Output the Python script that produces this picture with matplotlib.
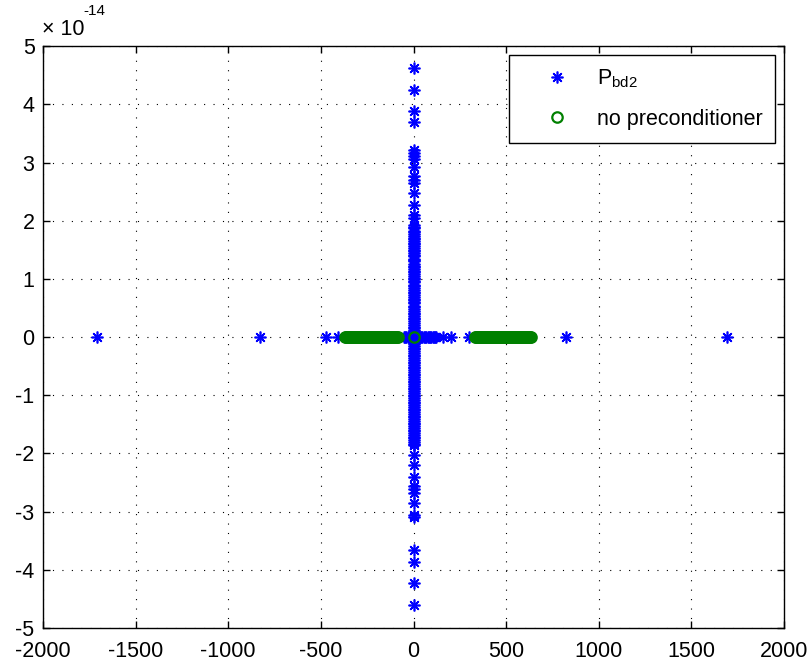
import matplotlib
matplotlib.use("Agg")
import matplotlib.pyplot as plt

plt.rcParams['font.family'] = 'Liberation Sans'
plt.rcParams['mathtext.fontset'] = 'custom'
plt.rcParams['mathtext.rm'] = 'Liberation Sans'
plt.rcParams['mathtext.it'] = 'Liberation Sans'
plt.rcParams['axes.unicode_minus'] = False

# eigenvalues of the preconditioned system on the imaginary axis (units of 1e-14)
pbd_col_imag = [
    4.62, 4.25, 3.88, 3.70, 3.22, 3.17, 3.12, 3.06, 2.92, 2.76, 2.70, 2.65, 2.47, 2.27,
    2.10, 2.04, 1.92, 1.89, 1.87, 1.83, 1.80, 1.78, 1.74, 1.71, 1.69, 1.65, 1.62, 1.60,
    1.56, 1.53, 1.50, 1.48, 1.44, 1.41, 1.39, 1.35, 1.32, 1.30, 1.26, 1.23, 1.21, 1.17,
    1.14, 1.12, 1.08, 1.05, 1.02, 0.99, 0.96, 0.94, 0.90, 0.87, 0.85, 0.81, 0.78, 0.76,
    0.72, 0.69, 0.66, 0.63, 0.60, 0.58, 0.54, 0.51, 0.49, 0.45, 0.42, 0.40, 0.36, 0.33,
    0.31, 0.27, 0.24, 0.21, 0.18, 0.15, 0.13, 0.09, 0.06, 0.03,
    -0.03, -0.06, -0.09, -0.12, -0.15, -0.18, -0.21, -0.24, -0.27, -0.30, -0.33, -0.36,
    -0.39, -0.42, -0.45, -0.48, -0.51, -0.54, -0.57, -0.60, -0.63, -0.66, -0.69, -0.72,
    -0.75, -0.78, -0.81, -0.84, -0.87, -0.90, -0.93, -0.96, -0.99, -1.02, -1.05, -1.08,
    -1.11, -1.14, -1.17, -1.20, -1.23, -1.26, -1.29, -1.32, -1.35, -1.38, -1.41, -1.44,
    -1.47, -1.50, -1.53, -1.56, -1.59, -1.62, -1.65, -1.68, -1.71, -1.74, -1.77, -1.80,
    -1.83, -1.85,
    -2.03, -2.20, -2.40, -2.56, -2.61, -2.68, -2.86, -3.05, -3.10, -3.66, -3.86, -4.23,
    -4.60,
]

# preconditioned eigenvalues on the real axis
pbd_row_real = [-1706, -826, -472, -405, -52, -45, -38, -31, -24, -17, -10, -4, 0, 6,
                13, 20, 27, 34, 41, 48, 55, 62, 69, 76, 83, 90, 97, 104, 111, 118, 124,
                157, 205, 297, 822, 1692]

# eigenvalues without preconditioning (all real)
nopc_real = [
    -368, -364, -359, -355, -350, -346, -341, -337, -332, -328, -323, -318, -314, -309,
    -305, -300, -296, -291, -287, -282, -277, -273, -268, -264, -259, -255, -250, -246,
    -241, -236, -232, -227, -223, -218, -214, -209, -205, -200, -195, -191, -186, -182,
    -177, -173, -168, -164, -159, -154, -150, -145, -141, -136, -132, -127, -123, -118,
    -113, -109, -104, -100, -95, -91, -86, 0,
    334, 339, 343, 348, 352, 357, 361, 366, 370, 375, 379, 384, 388, 393, 397, 402,
    406, 411, 415, 420, 424, 429, 433, 438, 442, 447, 451, 456, 460, 465, 469, 474,
    478, 483, 487, 492, 496, 501, 505, 510, 514, 519, 523, 528, 532, 537, 541, 546,
    550, 555, 559, 564, 568, 573, 577, 582, 586, 591, 595, 600, 604, 609, 613, 618,
    622, 627, 632,
]

fig = plt.figure(figsize=(8.1, 6.69), dpi=100)
ax = fig.add_axes([0.053, 0.0613, 0.915, 0.8697])

blue = (0, 0, 1)
green = (0, 0.5, 0)
star = (8, 2, 0)

pbd_x = [0.0] * len(pbd_col_imag) + pbd_row_real
pbd_y = pbd_col_imag + [0.0] * len(pbd_row_real)
ax.plot(pbd_x, pbd_y, linestyle='none', marker=star, markersize=8.5,
        markeredgewidth=1.2, color=blue, label=r'P$_{\mathrm{bd2}}$')
ax.plot(nopc_real, [0.0] * len(nopc_real), linestyle='none', marker='o',
        markersize=7.5, markeredgewidth=1.6, markerfacecolor='none',
        markeredgecolor=green, label='no preconditioner')

ax.set_xlim(-2000, 2000)
ax.set_ylim(-5, 5)
ax.set_xticks(range(-2000, 2001, 500))
ax.set_yticks(range(-5, 6))
ax.grid(True, color='black', linestyle=(0, (1, 7.5)), linewidth=0.8)
ax.tick_params(direction='in', length=5, width=1, top=True, right=True,
               labelsize=15.5)
ax.tick_params(axis='x', pad=9.5)
ax.tick_params(axis='y', pad=6)
for s in ax.spines.values():
    s.set_linewidth(1.0)

leg = ax.legend(loc='upper right', fontsize=15.5, borderpad=0.6, handlelength=3.3,
                handletextpad=0.2, labelspacing=0.85, borderaxespad=0.4,
                fancybox=False, framealpha=1, edgecolor='black')
leg.get_frame().set_linewidth(1.0)

fig.text(42 / 810, 1 - 35 / 669, '× 10', fontsize=15.5, ha='left', va='baseline')
fig.text(83 / 810, 1 - 15 / 669, '-14', fontsize=11, ha='left', va='baseline')

fig.savefig('out.png', dpi=100)
